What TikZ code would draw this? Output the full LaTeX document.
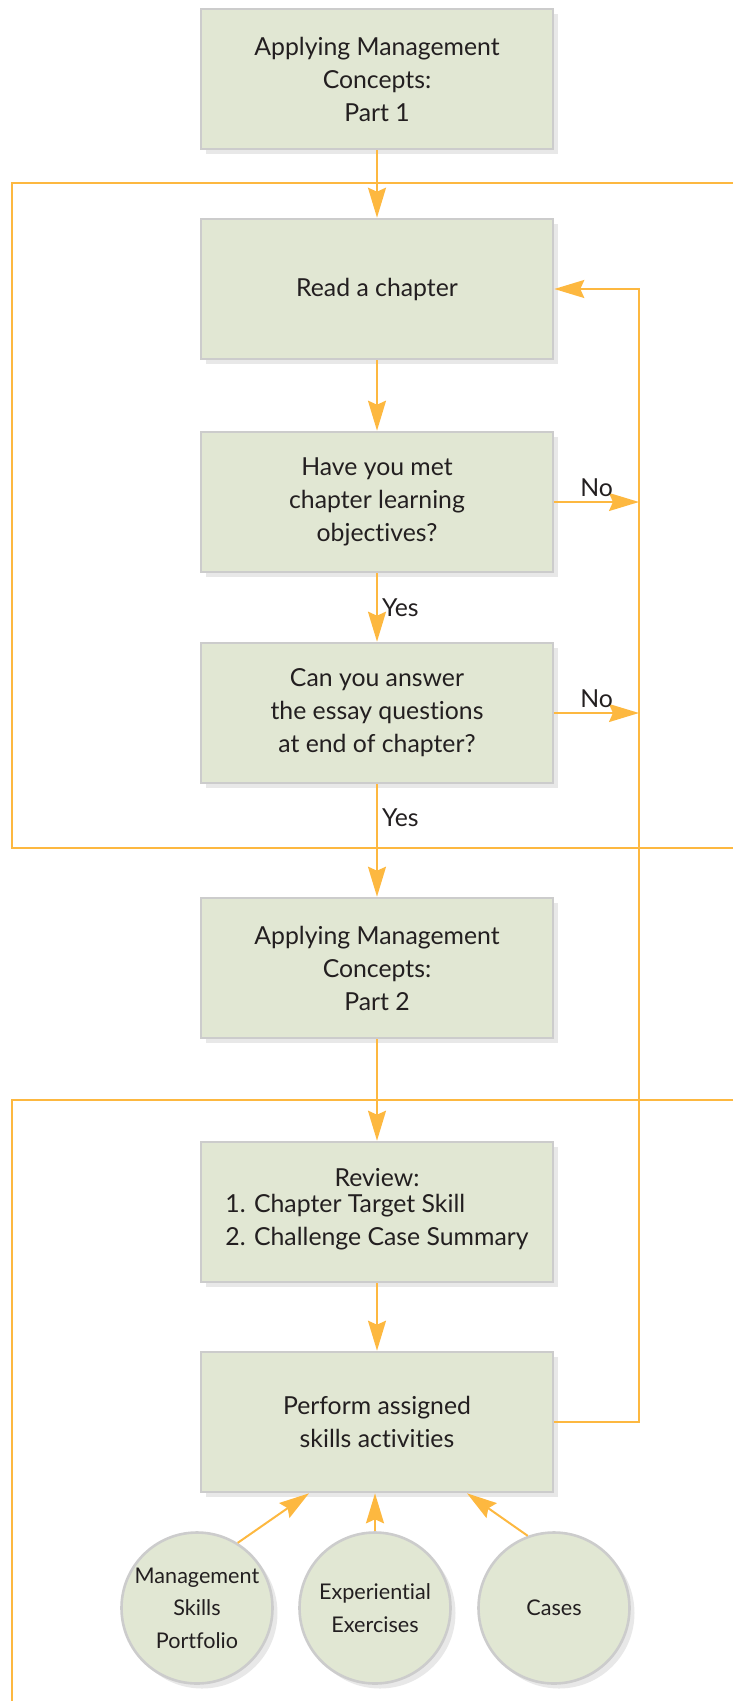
\documentclass[tikz,border=0pt]{standalone}
\usepackage{fontspec}
\setmainfont{Lato}[Ligatures=NoCommon]
\usetikzlibrary{arrows.meta,shadows,calc}
\definecolor{boxgreen}{RGB}{225,231,211}
\definecolor{boxline}{RGB}{204,204,204}
\definecolor{flow}{RGB}{253,184,64}
\definecolor{ink}{RGB}{35,31,32}

\begin{document}
\begin{tikzpicture}[x=0.5pt, y=-0.5pt,
        stepbox/.style={draw=boxline, line width=1.3pt, fill=boxgreen, text=ink,
            minimum width=176pt, minimum height=70pt, align=center,
            font=\fontsize{12.4}{16.5}\selectfont,
            drop shadow={shadow xshift=2.5pt, shadow yshift=-2.5pt, opacity=0.18}},
        source/.style={circle, draw=boxline, line width=1.3pt, fill=boxgreen, text=ink,
            minimum size=75.5pt, inner sep=0pt, align=center,
            font=\fontsize{10.8}{16.3}\selectfont,
            drop shadow={shadow xshift=2.5pt, shadow yshift=-2.5pt, opacity=0.18}},
        flowline/.style={draw=flow, line width=1pt},
        flowarrow/.style={flowline, -{Stealth[length=15pt, width=9pt, inset=2pt]}},
        answer/.style={text=ink, inner sep=2pt, font=\fontsize{12.4}{14}\selectfont}]
        \useasboundingbox (0,0) rectangle (733,1701);
        \draw[flowline] (733,183) -- (12,183) -- (12,848) -- (733,848);
        \draw[flowline] (733,1100) -- (12,1100) -- (12,1701);
        \node[stepbox] (part1) at (377,79) {Applying Management\\Concepts:\\Part 1};
        \node[stepbox] (read) at (377,289) {Read a chapter};
        \node[stepbox] (met) at (377,502) {Have you met\\chapter learning\\objectives?};
        \node[stepbox] (essay) at (377,713) {Can you answer\\the essay questions\\at end of chapter?};
        \node[stepbox] (part2) at (377,968) {Applying Management\\Concepts:\\Part 2};
        \node[stepbox] (review) at (377,1212) {Review:\\\begin{tabular}{@{}l@{}}1. Chapter Target Skill\\2. Challenge Case Summary\end{tabular}};
        \node[stepbox] (perform) at (377,1422) {Perform assigned\\skills activities};
        \node[source] (portfolio) at (197,1608) {Management\\Skills\\Portfolio};
        \node[source] (exercises) at (375,1608) {Experiential\\Exercises};
        \node[source] (cases) at (554,1608) {Cases};
        \coordinate (back) at (639,0);
        \draw[flowarrow] (part1) -- (read);
        \draw[flowarrow] (read) -- (met);
        \draw[flowarrow] (met) -- (essay) node[pos=0.5, right, answer] {Yes};
        \draw[flowarrow] (essay) -- (part2) node[pos=0.3, right, answer] {Yes};
        \draw[flowarrow] (part2) -- (review);
        \draw[flowarrow] (review) -- (perform);
        \draw[flowarrow] (met.east) -- (met.east -| back) node[pos=0.5, above, answer] {No};
        \draw[flowarrow] (essay.east) -- (essay.east -| back) node[pos=0.5, above, answer] {No};
        \draw[flowarrow] (perform.east) -| (back |- read.east) -- (read.east);
        \draw[flowarrow] (portfolio.58) -- ($(perform.south)+(-68,0)$);
        \draw[flowarrow] (exercises) -- (exercises |- perform.south);
        \draw[flowarrow] (cases.110) -- ($(perform.south)+(90,0)$);
    \end{tikzpicture}
\end{document}
